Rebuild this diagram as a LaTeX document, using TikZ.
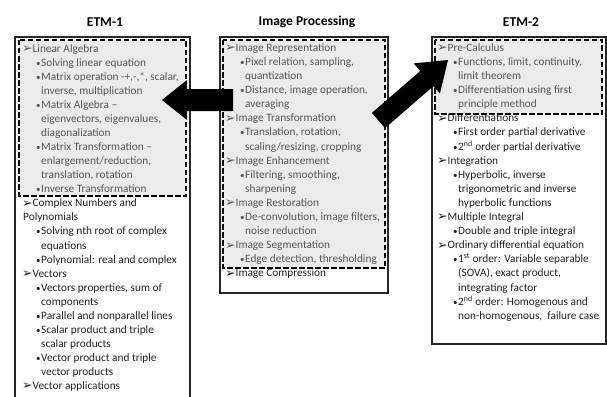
\documentclass[tikz,border=0pt]{standalone}
\usepackage{fontspec}
\setmainfont{Carlito}
\newfontfamily\djv{DejaVu Sans}
\definecolor{boxgrey}{HTML}{EBEBEB}
\definecolor{tgrey}{HTML}{555555}
\definecolor{tdark}{HTML}{222222}
\newcommand\harr{\raisebox{-0.3pt}{\djv\fontsize{12.5}{12}\selectfont ➢}}
\newcommand\bul{\makebox[5pt][l]{\fontsize{9}{9}\selectfont •}}
\newcommand\mkline[5]{\node[ln,#2] (#1) at (#3,#4) {#5};}
\tikzset{
  ln/.style={anchor=mid west, inner sep=0pt, font=\fontsize{11.3}{14}\selectfont},
  ig/.style={text=tgrey},
  od/.style={text=tdark},
  titletext/.style={font=\fontsize{13.5}{15}\selectfont\bfseries, inner sep=0pt},
  solidbox/.style={draw=black!85, line width=1.3pt, fill=white},
  dashfill/.style={fill=boxgrey, draw=none},
  dashborder/.style={draw=black, line width=1.8pt, dash pattern=on 5.5pt off 2.5pt},
  blockarrow/.style={fill=black, draw=none},
}
\begin{document}
\begin{tikzpicture}[x=1pt,y=-1pt]
\useasboundingbox (0,0) rectangle (607,396);
% titles
\node[titletext] (t1) at (105,22) {ETM-1};
\node[titletext] (t2) at (307,22) {Image Processing};
\node[titletext] (t3) at (521,22) {ETM-2};
% boxes
\draw[solidbox] (15,37) rectangle (190,400);
\draw[solidbox] (220,37) rectangle (388,293);
\draw[solidbox] (432,37) rectangle (606,344);
\fill[dashfill] (19,40) rectangle (186,196);
\fill[dashfill] (223,40) rectangle (385,268);
\fill[dashfill] (435,40) rectangle (602,114);
% ETM-1 text
\mkline{a0}{ig}{22}{50}{\harr Linear Algebra}
\mkline{a1}{ig}{36}{64}{\bul Solving linear equation}
\mkline{a2}{ig}{36}{78}{\bul Matrix operation -+,-,*, scalar,}
\mkline{a3}{ig}{41}{92}{inverse, multiplication}
\mkline{a4}{ig}{36}{106}{\bul Matrix Algebra --}
\mkline{a5}{ig}{41}{120}{eigenvectors, eigenvalues,}
\mkline{a6}{ig}{41}{134}{diagonalization}
\mkline{a7}{ig}{36}{148}{\bul Matrix Transformation --}
\mkline{a8}{ig}{41}{162}{enlargement/reduction,}
\mkline{a9}{ig}{41}{176}{translation, rotation}
\mkline{a10}{ig}{36}{190}{\bul Inverse Transformation}
\mkline{a11}{od}{22}{204.5}{\harr Complex Numbers and}
\mkline{a12}{od}{23}{218.6}{Polynomials}
\mkline{a13}{od}{36}{232.6}{\bul Solving nth root of complex}
\mkline{a14}{od}{41}{246.7}{equations}
\mkline{a15}{od}{36}{260.7}{\bul Polynomial: real and complex}
\mkline{a16}{od}{22}{274.8}{\harr Vectors}
\mkline{a17}{od}{36}{288.8}{\bul Vectors properties, sum of}
\mkline{a18}{od}{41}{302.9}{components}
\mkline{a19}{od}{36}{317}{\bul Parallel and nonparallel lines}
\mkline{a20}{od}{36}{331}{\bul Scalar product and triple}
\mkline{a21}{od}{41}{345}{scalar products}
\mkline{a22}{od}{36}{359}{\bul Vector product and triple}
\mkline{a23}{od}{41}{373}{vector products}
\mkline{a24}{od}{22}{387}{\harr Vector applications}
% Image processing text
\mkline{b0}{ig}{225}{49}{\harr Image Representation}
\mkline{b1}{ig}{240}{63}{\bul Pixel relation, sampling,}
\mkline{b2}{ig}{245}{77}{quantization}
\mkline{b3}{ig}{240}{91}{\bul Distance, image operation,}
\mkline{b4}{ig}{245}{105}{averaging}
\mkline{b5}{ig}{225}{119.5}{\harr Image Transformation}
\mkline{b6}{ig}{240}{133.6}{\bul Translation, rotation,}
\mkline{b7}{ig}{245}{147.7}{scaling/resizing, cropping}
\mkline{b8}{ig}{225}{161.8}{\harr Image Enhancement}
\mkline{b9}{ig}{240}{175.9}{\bul Filtering, smoothing,}
\mkline{b10}{ig}{245}{190}{sharpening}
\mkline{b11}{ig}{225}{204}{\harr Image Restoration}
\mkline{b12}{ig}{240}{218}{\bul De-convolution, image filters,}
\mkline{b13}{ig}{245}{232}{noise reduction}
\mkline{b14}{ig}{225}{246.4}{\harr Image Segmentation}
\mkline{b15}{ig}{240}{260.5}{\bul Edge detection, thresholding}
\mkline{b16}{od}{225}{274.6}{\harr Image Compression}
% ETM-2 text
\mkline{c0}{ig}{437}{49}{\harr Pre-Calculus}
\mkline{c1}{ig}{453}{63}{\bul Functions, limit, continuity,}
\mkline{c2}{ig}{458}{77}{limit theorem}
\mkline{c3}{ig}{453}{91}{\bul Differentiation using first}
\mkline{c4}{ig}{458}{105}{principle method}
\mkline{c5}{od}{437}{119.5}{\harr Differentiations}
\mkline{c6}{od}{453}{133.6}{\bul First order partial derivative}
\mkline{c7}{od}{453}{147.7}{\bul 2\textsuperscript{nd} order partial derivative}
\mkline{c8}{od}{437}{161.8}{\harr Integration}
\mkline{c9}{od}{453}{175.9}{\bul Hyperbolic, inverse}
\mkline{c10}{od}{458}{190}{trigonometric and inverse}
\mkline{c11}{od}{458}{204}{hyperbolic functions}
\mkline{c12}{od}{437}{218}{\harr Multiple Integral}
\mkline{c13}{od}{453}{232}{\bul Double and triple integral}
\mkline{c14}{od}{437}{246.4}{\harr Ordinary differential equation}
\mkline{c15}{od}{453}{260.5}{\bul 1\textsuperscript{st} order: Variable separable}
\mkline{c16}{od}{458}{274.6}{(SOVA), exact product,}
\mkline{c17}{od}{458}{288.7}{integrating factor}
\mkline{c18}{od}{453}{302.8}{\bul 2\textsuperscript{nd} order: Homogenous and}
\mkline{c19}{od}{458}{317}{non-homogenous,\ \ failure case}
% dashed borders
\draw[dashborder] (19,40) rectangle (186,196);
\draw[dashborder] (223,40) rectangle (385,268);
\draw[dashborder] (435,40) rectangle (602,114);
% block arrows
\fill[blockarrow] (162,100) -- (187,80) -- (187,89) -- (233,89) -- (233,111) -- (187,111) -- (187,120) -- cycle;
\fill[blockarrow] (371.9,112.9) -- (420.2,71) -- (413.7,63.4) -- (448,60) -- (439.9,93.6) -- (433.4,86.1) -- (385.1,128.1) -- cycle;
\end{tikzpicture}
\end{document}
